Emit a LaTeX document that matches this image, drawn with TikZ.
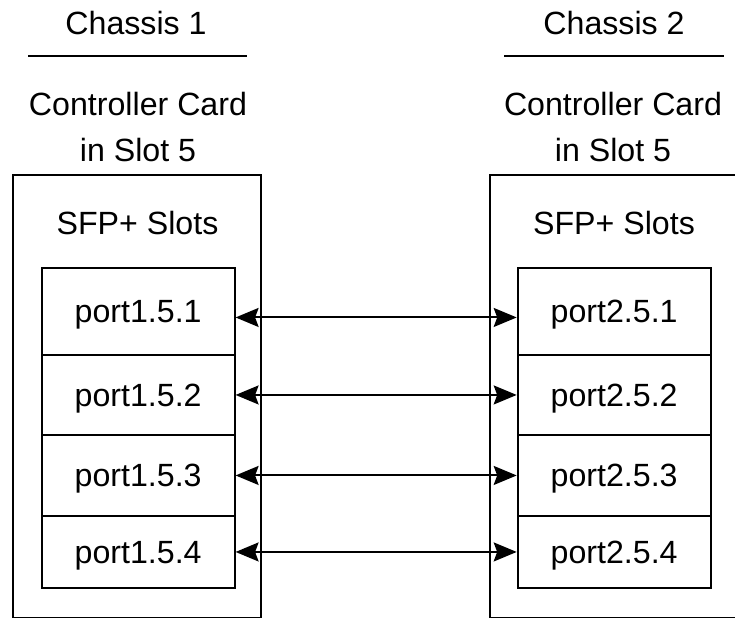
\documentclass[tikz,border=0pt]{standalone}
\usepackage{fontspec}
\setmainfont{Liberation Sans}
\usetikzlibrary{arrows.meta}

\begin{document}
\begin{tikzpicture}[x=0.02cm,y=-0.02cm,line width=1.1pt,
  >={Stealth[length=0.46cm,width=0.38cm,inset=0.07cm]},
  lbl/.style={font=\fontsize{18.3}{26.5}\selectfont,inner sep=0pt},
  onerow/.style={lbl,text height=13.1pt,text depth=0pt},
  portbox/.style={onerow,draw,minimum width=3.86cm,anchor=north west}]
  \clip (0,0) rectangle (735,618);
  % chassis titles
  \node[onerow] (title1) at (136,22.5) {Chassis 1};
  \node[onerow] (title2) at (614,22.5) {Chassis 2};
  \draw (28,56) -- (247,56);
  \draw (504,56) -- (724,56);
  \node[lbl,align=center] (card1) at (138,127) {Controller Card\\in Slot 5};
  \node[lbl,align=center] (card2) at (613,127) {Controller Card\\in Slot 5};
  % card outlines (cut off at the bottom and right)
  \draw (13,175) rectangle (261,617.5);
  \draw (490,175) rectangle (770,617.5);
  \node[onerow] (sfp1) at (137.5,223) {SFP+ Slots};
  \node[onerow] (sfp2) at (614,223) {SFP+ Slots};
  % ports of chassis 1
  \node[portbox,minimum height=1.74cm] (p11) at (40.7,267) {port1.5.1};
  \node[portbox,minimum height=1.60cm] (p12) at (40.7,354) {port1.5.2};
  \node[portbox,minimum height=1.62cm] (p13) at (40.7,434) {port1.5.3};
  \node[portbox,minimum height=1.44cm] (p14) at (40.7,515) {port1.5.4};
  % ports of chassis 2
  \node[portbox,minimum height=1.74cm] (p21) at (516.7,267) {port2.5.1};
  \node[portbox,minimum height=1.60cm] (p22) at (516.7,354) {port2.5.2};
  \node[portbox,minimum height=1.62cm] (p23) at (516.7,434) {port2.5.3};
  \node[portbox,minimum height=1.44cm] (p24) at (516.7,515) {port2.5.4};
  % links
  \draw[<->] ([yshift=-0.12cm]p11.east) -- ([yshift=-0.12cm]p21.west);
  \draw[<->] (p12) -- (p22);
  \draw[<->] (p13) -- (p23);
  \draw[<->] (p14) -- (p24);
\end{tikzpicture}
\end{document}
